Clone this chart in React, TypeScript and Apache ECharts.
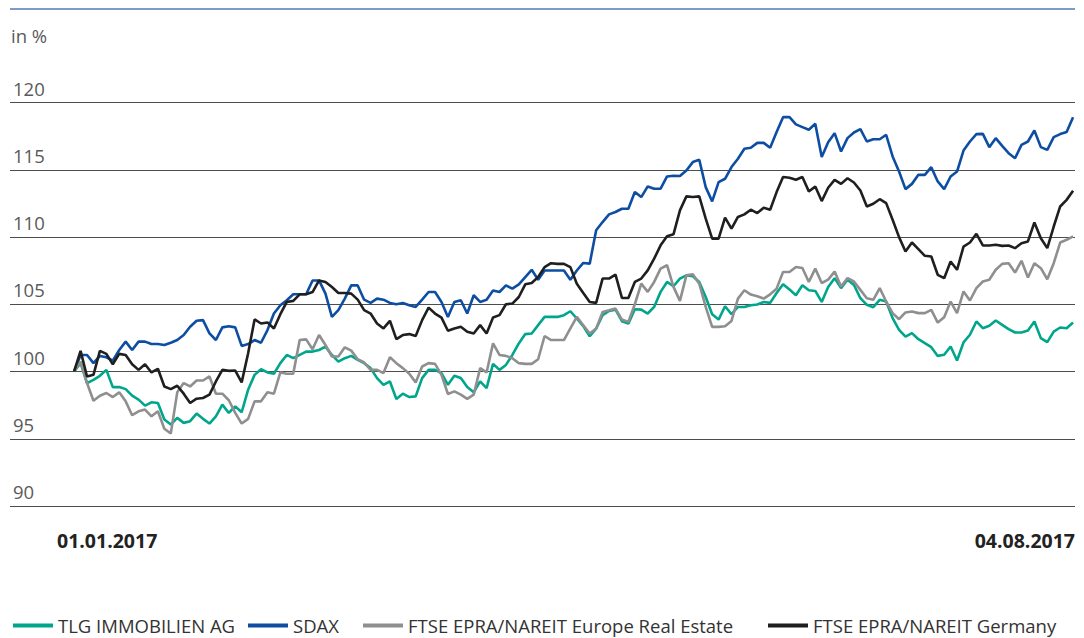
import React, { useEffect, useRef } from "react";
import * as echarts from "echarts";

const seriesNames = [
  "TLG IMMOBILIEN AG",
  "SDAX",
  "FTSE EPRA/NAREIT Europe Real Estate",
  "FTSE EPRA/NAREIT Germany",
];

const dateLabels = ["01.01.2017", "04.08.2017"];
const yTicks = [90, 95, 100, 105, 110, 115, 120];

const tlg = [
  100.0, 100.62, 99.14, 99.38, 99.68, 100.12, 98.84, 98.84, 98.69, 98.2, 97.91, 97.46, 97.71, 97.66, 96.43, 96.06, 96.55, 96.18, 96.31, 96.87, 96.48, 96.13, 96.67, 97.54, 96.92, 97.41, 96.97, 98.65, 99.75, 100.17, 99.93, 99.83, 100.62, 101.23, 100.99, 101.23, 101.48, 101.48, 101.6, 101.85, 101.23,
  100.74, 100.99, 101.16, 100.86, 100.62, 100.25, 99.51, 99.01, 99.26, 97.96, 98.35, 98.1, 98.15, 99.51, 100.12, 100.12, 99.88, 99.01, 99.68, 99.51, 98.84, 98.45, 99.26, 98.77, 100.57, 100.12, 100.49, 101.23, 102.09, 102.78, 102.83, 103.45, 104.06, 104.06, 104.06, 104.19, 104.48, 103.94,
  103.37, 102.62, 103.19, 104.18, 104.5, 104.6, 103.74, 103.56, 104.63, 104.6, 104.31, 104.8, 105.92, 106.66, 106.34, 106.91, 107.15, 107.08, 106.66, 105.54, 104.26, 103.86, 104.85, 104.26, 104.8, 104.8, 104.93, 104.98, 105.17, 105.1, 105.84, 106.49, 106.09, 105.67, 106.41, 106.04, 105.99, 105.17, 106.29,
  106.94, 106.2, 106.82, 106.44, 105.45, 104.96, 104.78, 105.33, 105.2, 103.97, 103.1, 102.6, 102.85, 102.4, 102.11, 101.81, 101.16, 101.24, 101.86, 100.82, 102.16, 102.73, 103.72, 103.22, 103.4, 103.79, 103.47, 103.15, 102.9, 102.9, 103.05, 103.72, 102.48, 102.18, 102.97, 103.27, 103.22, 103.64,
];

const sdax = [
  100.0, 101.23, 101.23, 100.62, 101.16, 101.06, 100.81, 101.6, 102.22, 101.6, 102.22, 102.22, 102.04, 102.04, 101.97, 102.14, 102.34, 102.71, 103.33, 103.77, 103.82, 102.83, 102.34, 103.28, 103.37, 103.28, 101.9, 102.04, 102.34, 102.14, 103.08, 104.31, 104.93, 105.3, 105.74, 105.74, 105.74, 106.77, 106.77, 105.79, 104.06,
  104.56, 105.42, 106.4, 106.4, 105.34, 105.1, 105.42, 105.34, 105.1, 105.0, 105.1, 104.93, 104.8, 105.34, 105.91, 105.91, 105.17, 104.06, 105.17, 105.3, 104.31, 105.67, 105.17, 105.34, 106.03, 105.91, 106.4, 106.16, 106.48, 107.02, 107.56, 106.82, 107.51, 107.51, 107.51, 107.51, 106.82, 107.51,
  108.07, 108.02, 110.5, 111.11, 111.68, 111.86, 112.1, 112.1, 113.34, 112.97, 113.76, 113.59, 113.59, 114.5, 114.55, 114.53, 114.95, 115.57, 115.74, 113.71, 112.65, 114.08, 114.33, 115.2, 115.82, 116.56, 116.63, 117.0, 117.0, 116.63, 117.8, 118.91, 118.91, 118.37, 118.17, 117.97, 118.42, 115.94, 117.05,
  117.72, 116.36, 117.35, 117.77, 118.02, 117.1, 117.27, 117.27, 117.6, 115.99, 114.87, 113.56, 113.95, 114.62, 114.62, 115.19, 114.13, 113.56, 114.5, 114.87, 116.43, 117.1, 117.65, 117.67, 116.68, 117.35, 116.78, 116.23, 115.86, 116.85, 117.1, 117.92, 116.68, 116.48, 117.42, 117.65, 117.8, 118.91,
];

const europeRE = [
  100.0, 100.74, 99.14, 97.83, 98.2, 98.4, 98.1, 98.45, 97.78, 96.75, 97.04, 97.17, 96.67, 97.04, 95.74, 95.39, 98.45, 99.14, 98.89, 99.33, 99.33, 99.63, 98.35, 98.35, 97.86, 96.92, 96.13, 96.48, 97.78, 97.78, 98.45, 98.35, 99.93, 99.83, 99.83, 102.34, 102.39, 101.65, 102.71, 101.97, 101.11,
  101.11, 101.8, 101.55, 100.91, 100.67, 100.12, 100.12, 99.88, 101.06, 100.62, 100.25, 99.83, 99.19, 100.37, 100.62, 100.57, 99.75, 98.33, 98.52, 98.28, 97.96, 98.28, 100.25, 99.93, 102.09, 101.23, 101.16, 100.99, 100.62, 100.57, 100.57, 100.91, 102.64, 102.34, 102.34, 102.34, 103.2, 104.06,
  103.44, 102.82, 103.19, 104.43, 104.55, 104.68, 103.86, 103.69, 105.0, 106.53, 105.92, 106.66, 107.65, 107.9, 106.29, 105.25, 107.15, 107.23, 106.53, 104.8, 103.32, 103.32, 103.37, 103.76, 105.42, 106.04, 105.72, 105.59, 105.42, 105.74, 106.16, 107.4, 107.4, 107.77, 107.7, 106.66, 107.65, 106.58, 106.83,
  107.43, 106.32, 106.94, 106.69, 106.07, 105.45, 105.33, 106.2, 105.2, 104.34, 103.89, 104.39, 104.46, 104.34, 104.34, 104.58, 103.64, 104.04, 105.2, 104.34, 105.95, 105.28, 106.2, 106.69, 106.82, 107.56, 108.0, 108.05, 107.36, 108.23, 106.99, 108.05, 107.68, 106.86, 108.05, 109.59, 109.79, 110.04,
];

const germany = [
  100.0, 101.53, 99.63, 99.75, 101.53, 101.31, 100.54, 101.31, 101.23, 100.54, 100.12, 100.54, 99.93, 100.2, 98.89, 98.69, 98.94, 98.35, 97.66, 97.98, 98.03, 98.28, 99.26, 100.12, 100.05, 100.07, 99.19, 101.35, 103.87, 103.57, 103.65, 103.2, 104.26, 105.17, 105.25, 105.74, 105.74, 105.91, 106.77, 106.65, 106.28,
  105.84, 105.84, 105.79, 105.34, 104.56, 104.31, 103.57, 103.2, 103.77, 102.41, 102.71, 102.78, 102.64, 103.82, 104.75, 104.31, 104.01, 103.03, 103.2, 103.33, 102.96, 102.83, 103.45, 102.83, 104.01, 104.19, 105.0, 105.05, 105.54, 106.48, 106.58, 107.02, 107.76, 108.05, 108.0, 108.0, 107.76, 106.53,
  105.84, 105.17, 105.1, 106.91, 106.91, 107.2, 105.47, 105.47, 106.66, 106.91, 107.52, 108.39, 109.38, 110.05, 110.2, 111.98, 113.02, 112.97, 113.02, 111.36, 109.88, 109.88, 111.44, 110.62, 111.49, 111.68, 112.03, 111.78, 112.18, 112.03, 113.34, 114.46, 114.41, 114.26, 114.46, 113.39, 113.76, 112.67, 113.66,
  114.25, 113.95, 114.37, 114.05, 113.46, 112.27, 112.47, 112.81, 112.52, 111.28, 109.99, 108.92, 109.59, 109.1, 108.6, 108.55, 107.19, 106.94, 108.18, 107.56, 109.29, 109.59, 110.24, 109.37, 109.37, 109.42, 109.34, 109.37, 109.17, 109.54, 109.67, 111.08, 109.91, 109.17, 110.78, 112.27, 112.76, 113.43,
];

const seriesValues = [tlg, sdax, europeRE, germany];
const seriesColors = ["#00a68c", "#0d4ea3", "#8f8f8f", "#1f1f1f"];
const legendLefts = [13, 248, 363, 768];

const FONT = "'Open Sans', 'DejaVu Sans', sans-serif";

export default function App() {
  const ref = useRef<HTMLDivElement>(null);

  useEffect(() => {
    document.body.style.margin = "0";
    if (!ref.current) return;
    const chart = echarts.init(ref.current, null, { renderer: "svg" });
    const lastIndex = tlg.length - 1;

    chart.setOption({
      animation: false,
      backgroundColor: "#ffffff",
      grid: { left: 10, right: 9, top: 102.5, height: 403.5, containLabel: false },
      xAxis: {
        type: "value",
        min: -9.95,
        max: lastIndex + 0.3,
        axisLine: { show: false },
        axisTick: { show: false },
        axisLabel: { show: false },
        splitLine: { show: false },
      },
      yAxis: {
        type: "value",
        min: yTicks[0],
        max: yTicks[yTicks.length - 1],
        interval: 5,
        axisLine: { show: false },
        axisTick: { show: false },
        axisLabel: {
          inside: true,
          margin: 3,
          verticalAlign: "bottom",
          padding: [0, 0, 5, 0],
          color: "#5a5a5a",
          fontSize: 18.5,
          fontFamily: FONT,
          formatter: (v: number) => (yTicks.includes(v) ? String(v) : ""),
        },
        splitLine: { show: true, lineStyle: { color: "#4d4d4d", width: 1 } },
      },
      legend: seriesNames.map((name, k) => ({
        show: true,
        left: legendLefts[k],
        top: 616,
        padding: 0,
        icon: "rect",
        itemWidth: 40,
        itemHeight: 4,
        textStyle: { color: "#333333", fontSize: 18.5, fontFamily: FONT },
        data: [name],
      })),
      graphic: [
        {
          type: "line",
          shape: { x1: 10, y1: 9, x2: 1075, y2: 9 },
          style: { stroke: "#4f7ab8", lineWidth: 1.3 },
        },
        {
          type: "text",
          x: 11,
          y: 35,
          style: {
            text: "in %",
            fill: "#5a5a5a",
            fontSize: 18.5,
            fontFamily: FONT,
            verticalAlign: "middle",
          },
        },
        {
          type: "text",
          x: 57,
          y: 540,
          style: {
            text: dateLabels[0],
            fill: "#222222",
            fontSize: 19.5,
            fontFamily: FONT,
            fontWeight: "bold",
            verticalAlign: "middle",
            align: "left",
          },
        },
        {
          type: "text",
          x: 1075,
          y: 540,
          style: {
            text: dateLabels[1],
            fill: "#222222",
            fontSize: 19.5,
            fontFamily: FONT,
            fontWeight: "bold",
            verticalAlign: "middle",
            align: "right",
          },
        },
      ],
      series: seriesNames.map((name, k) => ({
        name,
        type: "line",
        data: seriesValues[k].map((v, i) => [i, v]),
        showSymbol: false,
        symbol: "none",
        lineStyle: { color: seriesColors[k], width: 2.6 },
        itemStyle: { color: seriesColors[k] },
        z: 2 + k,
      })),
    });

    return () => chart.dispose();
  }, []);

  return <div ref={ref} style={{ width: 1084, height: 638 }} />;
}
